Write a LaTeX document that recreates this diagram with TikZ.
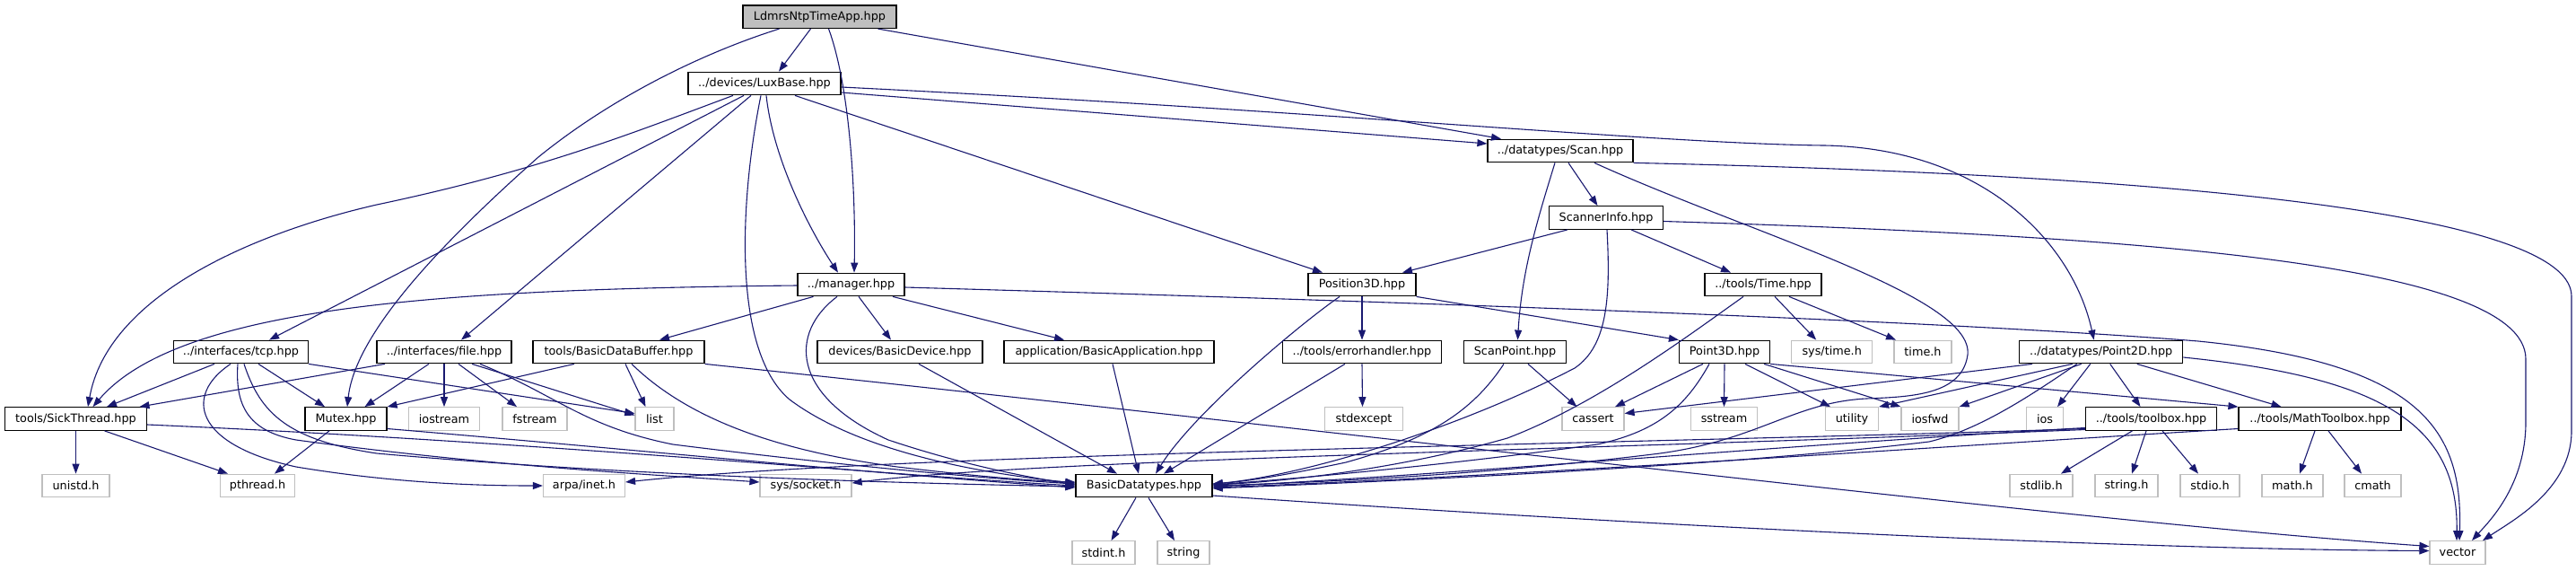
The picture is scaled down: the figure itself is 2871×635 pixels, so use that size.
\documentclass[tikz,border=0pt]{standalone}
\usepackage{fontspec}
\setmainfont{DejaVu Sans}
\usetikzlibrary{arrows.meta}
\definecolor{edgec}{HTML}{191970}
\definecolor{gbord}{HTML}{BFBFBF}
\begin{document}
\begin{tikzpicture}[x=1pt,y=-1pt,
  box/.style={rectangle, minimum height=25.6pt, inner sep=0pt, font=\fontsize{12.8}{15}\selectfont, line width=1.2pt, fill=white},
  hb/.style={box, draw=black},
  sb/.style={box, draw=gbord},
  rb/.style={box, draw=black, fill=gbord},
  dep/.style={draw=edgec, line width=1.1pt, -{Triangle[length=11pt,width=8pt]}}]
\fill[white] (0,0) rectangle (2871,635);
\useasboundingbox (0,0) rectangle (2871,635);
% row 0-4
\node[rb, minimum width=171] (root) at (913.5,18.7) {LdmrsNtpTimeApp.hpp};
\node[hb, minimum width=170] (luxbase) at (852,93) {../devices/LuxBase.hpp};
\node[hb, minimum width=162] (scan) at (1739,168) {../datatypes/Scan.hpp};
\node[hb, minimum width=127] (scannerinfo) at (1790,242.5) {ScannerInfo.hpp};
\node[hb, minimum width=119] (manager) at (948.5,317) {../manager.hpp};
\node[hb, minimum width=120] (position3d) at (1518,317) {Position3D.hpp};
\node[hb, minimum width=130] (time) at (1965,317) {../tools/Time.hpp};
% row 5
\node[hb, minimum width=150] (tcp) at (268.5,392) {../interfaces/tcp.hpp};
\node[hb, minimum width=150] (file) at (495,392) {../interfaces/file.hpp};
\node[hb, minimum width=191] (bdb) at (689.5,392) {tools/BasicDataBuffer.hpp};
\node[hb, minimum width=184] (basicdevice) at (1003,392) {devices/BasicDevice.hpp};
\node[hb, minimum width=234] (basicapp) at (1236,392) {application/BasicApplication.hpp};
\node[hb, minimum width=177] (errorhandler) at (1518,392) {../tools/errorhandler.hpp};
\node[hb, minimum width=114] (scanpoint) at (1688.5,392) {ScanPoint.hpp};
\node[hb, minimum width=101] (point3d) at (1922,392) {Point3D.hpp};
\node[sb, minimum width=90] (systime) at (2041.7,392) {sys/time.h};
\node[sb, minimum width=64] (timeh) at (2143,392) {time.h};
\node[hb, minimum width=182] (point2d) at (2341.7,392) {../datatypes/Point2D.hpp};
% row 6
\node[hb, minimum width=158] (sickthread) at (84.5,466.5) {tools/SickThread.hpp};
\node[hb, minimum width=91] (mutex) at (385.5,466.5) {Mutex.hpp};
\node[sb, minimum width=79] (iostream) at (495,466.5) {iostream};
\node[sb, minimum width=72] (fstream) at (596,466.5) {fstream};
\node[sb, minimum width=43] (list) at (729.5,466.5) {list};
\node[sb, minimum width=87] (stdexcept) at (1520,466.5) {stdexcept};
\node[sb, minimum width=69] (cassert) at (1775.5,466.5) {cassert};
\node[sb, minimum width=74] (sstream) at (1921.5,466.5) {sstream};
\node[sb, minimum width=59] (utility) at (2064,466.5) {utility};
\node[sb, minimum width=64] (iosfwd) at (2151,466.5) {iosfwd};
\node[sb, minimum width=41] (ios) at (2279,466.5) {ios};
\node[hb, minimum width=146] (toolbox) at (2397.5,466.5) {../tools/toolbox.hpp};
\node[hb, minimum width=181] (mathtoolbox) at (2585.5,466.5) {../tools/MathToolbox.hpp};
% row 7
\node[sb, minimum width=75] (unistd) at (84.5,541) {unistd.h};
\node[sb, minimum width=83] (pthread) at (287,541) {pthread.h};
\node[sb, minimum width=91] (arpa) at (651,541) {arpa/inet.h};
\node[sb, minimum width=102] (syssocket) at (898,541) {sys/socket.h};
\node[hb, minimum width=152] (basicdt) at (1275,541) {BasicDatatypes.hpp};
\node[sb, minimum width=70] (stdlib) at (2275,541) {stdlib.h};
\node[sb, minimum width=70] (stringh) at (2370,541) {string.h};
\node[sb, minimum width=66] (stdio) at (2463,541) {stdio.h};
\node[sb, minimum width=68] (mathh) at (2555,541) {math.h};
\node[sb, minimum width=63] (cmath) at (2644.5,541) {cmath};
% row 8
\node[sb, minimum width=70] (stdint) at (1230,615.5) {stdint.h};
\node[sb, minimum width=58] (string) at (1319,615.5) {string};
\node[sb, minimum width=62] (vector) at (2739,615.5) {vector};

% root
\draw[dep] ([xshift=-10]root.south) -- ([xshift=16]luxbase.north);
\draw[dep] ([xshift=10]root.south) .. controls (945,90) and (954,200) .. ([xshift=3.5]manager.north);
\draw[dep] ([xshift=65]root.south) -- ([xshift=-66]scan.north);
\draw[dep] ([xshift=-45]root.south) .. controls (780,60) and (680,110) .. (600,175) .. controls (470,290) and (395,380) .. ([xshift=1.5]mutex.north);
% luxbase
\draw[dep] ([yshift=-10]luxbase.east) -- ([yshift=8]scan.west);
\draw[dep] ([yshift=-4]luxbase.east) .. controls (1500,125) and (1850,160) .. (2033,162) .. controls (2210,165) and (2310,270) .. ([xshift=-8]point2d.north);
\draw[dep] ([xshift=34]luxbase.south) -- ([xshift=-44]position3d.north);
\draw[dep] ([xshift=2]luxbase.south) .. controls (862,180) and (905,260) .. ([xshift=-14.5]manager.north);
\draw[dep] ([xshift=-4]luxbase.south) .. controls (825,220) and (815,390) .. (880,445) .. controls (960,505) and (1100,528) .. ([yshift=3]basicdt.west);
\draw[dep] ([xshift=-15]luxbase.south) -- ([xshift=19]file.north);
\draw[dep] ([xshift=-23]luxbase.south) -- ([xshift=31.5]tcp.north);
\draw[dep] ([xshift=-35]luxbase.south) .. controls (700,150) and (600,190) .. (420,228) .. controls (280,260) and (120,330) .. ([xshift=13.5]sickthread.north);
% manager
\draw[dep] ([yshift=-1]manager.west) .. controls (500,322) and (200,340) .. ([xshift=19]sickthread.north);
\draw[dep] ([xshift=-42]manager.south) -- ([xshift=45.5]bdb.north);
\draw[dep] ([xshift=8.5]manager.south) -- ([xshift=-10]basicdevice.north);
\draw[dep] ([xshift=46.5]manager.south) -- ([xshift=-50]basicapp.north);
\draw[dep] ([xshift=-15.5]manager.south) .. controls (880,370) and (880,440) .. (990,490) .. controls (1080,520) and (1150,532) .. ([yshift=1]basicdt.west);
\draw[dep] ([yshift=-3]manager.east) .. controls (1700,340) and (2200,360) .. (2450,380) .. controls (2700,405) and (2745,480) .. ([xshift=2]vector.north);
% tcp
\draw[dep] ([xshift=-29.5]tcp.south) -- ([xshift=34.5]sickthread.north);
\draw[dep] ([xshift=19.5]tcp.south) -- ([xshift=-23.5]mutex.north);
\draw[dep] (tcp.south east) -- ([yshift=6]list.west);
\draw[dep] ([xshift=-11.5]tcp.south) .. controls (205,440) and (215,495) .. (330,520) .. controls (450,540) and (550,541) .. (arpa.west);
\draw[dep] ([xshift=-3.5]tcp.south) .. controls (262,450) and (275,480) .. (330,490) .. controls (550,520) and (750,530) .. ([yshift=4]syssocket.west);
\draw[dep] ([xshift=3.5]tcp.south) .. controls (290,460) and (320,490) .. (420,505) .. controls (700,530) and (1000,538) .. ([yshift=-1]basicdt.west);
% file
\draw[dep] ([xshift=-66]file.south) -- ([xshift=71]sickthread.north);
\draw[dep] ([xshift=-17]file.south) -- ([xshift=21]mutex.north);
\draw[dep] (file.south) -- (iostream.north);
\draw[dep] ([xshift=16]file.south) -- ([xshift=-20]fstream.north);
\draw[dep] ([xshift=31]file.south) -- ([yshift=4]list.west);
\draw[dep] ([xshift=40]file.south) .. controls (620,440) and (650,475) .. (750,495) .. controls (950,520) and (1100,533) .. ([yshift=2]basicdt.west);
% bdb
\draw[dep] ([xshift=-49.5]bdb.south) -- (mutex.north east);
\draw[dep] ([xshift=7.5]bdb.south) -- ([xshift=-10]list.north);
\draw[dep] ([xshift=14.5]bdb.south) .. controls (760,460) and (850,500) .. (1000,520) .. controls (1100,532) and (1160,536) .. ([yshift=4]basicdt.west);
\draw[dep] (bdb.south east) .. controls (1500,480) and (2300,580) .. ([yshift=7]vector.west);
% sickthread, mutex
\draw[dep] (sickthread.south) -- (unistd.north);
\draw[dep] ([xshift=32]sickthread.south) -- ([xshift=-33]pthread.north);
\draw[dep] ([yshift=-6.5]sickthread.east) .. controls (600,492) and (1000,530) .. (basicdt.west);
\draw[dep] ([xshift=-18.5]mutex.south) -- ([xshift=19]pthread.north);
\draw[dep] ([yshift=-11]mutex.east) .. controls (700,500) and (1000,530) .. ([yshift=-2]basicdt.west);
% devices / app
\draw[dep] ([xshift=21]basicdevice.south) -- ([xshift=-30]basicdt.north);
\draw[dep] ([xshift=4]basicapp.south) -- ([xshift=-6]basicdt.north);
% position3d
\draw[dep] (position3d.south) -- (errorhandler.north);
\draw[dep] (position3d.south east) -- (point3d.north west);
\draw[dep] ([xshift=-25]position3d.south) .. controls (1450,360) and (1330,460) .. ([xshift=13]basicdt.north);
% errorhandler
\draw[dep] (errorhandler.south) -- ([xshift=-1.5]stdexcept.north);
\draw[dep] ([xshift=-19]errorhandler.south) -- ([xshift=22]basicdt.north);
% scanpoint
\draw[dep] ([xshift=14.5]scanpoint.south) -- ([xshift=-18]cassert.north);
\draw[dep] ([xshift=-12.5]scanpoint.south) .. controls (1640,460) and (1590,490) .. (1500,515) .. controls (1420,532) and (1380,537) .. ([yshift=2]basicdt.east);
% point3d
\draw[dep] ([xshift=-24]point3d.south) -- ([xshift=24.5]cassert.north);
\draw[dep] (point3d.south) -- (sstream.north);
\draw[dep] ([xshift=23]point3d.south) -- ([xshift=-24]utility.north);
\draw[dep] ([xshift=44]point3d.south) -- (iosfwd.north west);
\draw[dep] (point3d.south east) -- (mathtoolbox.north west);
\draw[dep] ([xshift=-17]point3d.south) .. controls (1880,450) and (1850,480) .. (1780,495) .. controls (1600,520) and (1420,535) .. ([yshift=1]basicdt.east);
% point2d
\draw[dep] ([xshift=15]point2d.south west) -- ([yshift=6]cassert.east);
\draw[dep] ([xshift=-32]point2d.south) -- (utility.north east);
\draw[dep] ([xshift=-22]point2d.south) -- (iosfwd.north east);
\draw[dep] ([xshift=-12]point2d.south) -- ([xshift=14]ios.north);
\draw[dep] ([xshift=10]point2d.south) -- ([xshift=-12]toolbox.north);
\draw[dep] ([xshift=40]point2d.south) -- ([xshift=-43]mathtoolbox.north);
\draw[dep] ([xshift=-27]point2d.south) .. controls (2250,450) and (2200,480) .. (2150,492) .. controls (1900,522) and (1500,538) .. ([yshift=-3]basicdt.east);
\draw[dep] ([yshift=-6]point2d.east) .. controls (2650,420) and (2740,470) .. ([xshift=-1]vector.north);
% toolbox
\draw[dep] ([xshift=-21]toolbox.south) -- ([xshift=22]stdlib.north);
\draw[dep] ([xshift=-5.5]toolbox.south) -- ([xshift=6]stringh.north);
\draw[dep] ([xshift=12.5]toolbox.south) -- ([xshift=-13]stdio.north);
\draw[dep] ([yshift=-10]toolbox.west) .. controls (2000,495) and (1600,530) .. ([yshift=-1]basicdt.east);
\draw[dep] ([yshift=-11]toolbox.west) .. controls (1800,495) and (1000,505) .. ([yshift=4]arpa.east);
\draw[dep] ([yshift=-12]toolbox.west) .. controls (1800,500) and (1150,512) .. ([yshift=3]syssocket.east);
% mathtoolbox
\draw[dep] ([xshift=-5.5]mathtoolbox.south) -- ([xshift=8]mathh.north);
\draw[dep] ([xshift=9.5]mathtoolbox.south) -- ([xshift=-12.5]cmath.north);
\draw[dep] ([yshift=-11]mathtoolbox.west) .. controls (2200,495) and (1700,530) .. ([yshift=-2]basicdt.east);
% time
\draw[dep] ([xshift=13]time.south) -- ([xshift=-17.5]systime.north);
\draw[dep] ([xshift=29]time.south) -- ([xshift=-30]timeh.north);
\draw[dep] ([xshift=-22]time.south) .. controls (1880,375) and (1780,450) .. (1680,488) .. controls (1550,525) and (1420,537) .. ([yshift=1]basicdt.east);
% scan
\draw[dep] ([xshift=9]scan.south) -- ([xshift=-9.5]scannerinfo.north);
\draw[dep] ([xshift=-6]scan.south) .. controls (1715,240) and (1696,300) .. ([xshift=3]scanpoint.north);
\draw[dep] ([xshift=38]scan.south) .. controls (1950,260) and (2200,330) .. (2193,395) .. controls (2187,440) and (2130,442) .. (2080,444) .. controls (2000,448) and (1960,490) .. (1850,505) .. controls (1650,530) and (1450,538) .. (basicdt.east);
\draw[dep] (scan.south east) .. controls (2300,192) and (2866,225) .. (2866,330) -- (2866,480) .. controls (2866,545) and (2800,580) .. ([xshift=28]vector.north);
% scannerinfo
\draw[dep] ([xshift=-43]scannerinfo.south) -- ([xshift=45]position3d.north);
\draw[dep] ([xshift=28]scannerinfo.south) -- ([xshift=-36]time.north);
\draw[dep] ([xshift=1]scannerinfo.south) .. controls (1795,330) and (1792,385) .. (1755,410) .. controls (1620,480) and (1450,530) .. ([yshift=2]basicdt.east);
\draw[dep] ([yshift=-4]scannerinfo.east) .. controls (2350,262) and (2815,290) .. (2815,400) -- (2815,470) .. controls (2815,540) and (2775,580) .. ([xshift=16]vector.north);
% basicdt
\draw[dep] ([xshift=-9]basicdt.south) -- ([xshift=8.5]stdint.north);
\draw[dep] ([xshift=5]basicdt.south) -- ([xshift=-10]string.north);
\draw[dep] ([yshift=-11]basicdt.east) .. controls (1900,590) and (2400,612) .. ([yshift=2]vector.west);
\end{tikzpicture}
\end{document}
